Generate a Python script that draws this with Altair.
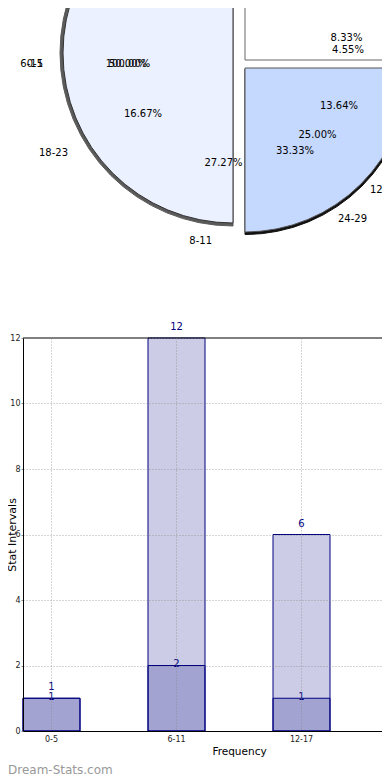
import math
import altair as alt
import pandas as pd

# ---------------- data ----------------
categories = ["0-5", "6-11", "12-17"]
upper_counts = [1, 12, 6]
lower_counts = [1, 2, 1]

slice_ids = ["upper right", "lower right", "left"]
slice_shares = [25, 25, 50]

pie_names = ["6-11", "0-5", "18-23", "8-11", "24-29", "12-17"]
pie_pcts = ["100.00%", "50.00%", "16.67%", "27.27%", "8.33%", "4.55%", "13.64%", "25.00%", "33.33%"]

# ---------------- layout (pixels in plot coords) ----------------
W, H = 367, 393
name_pos = [(20, -274, "right"), (20, -274, "right"), (45, -185, "right"),
            (189, -97, "right"), (315, -119, "left"), (347, -148, "left")]
pct_pos = [(105, -274), (105, -274), (120, -224), (200.5, -175), (323.5, -300),
           (325, -288), (316, -232), (294.5, -203), (272, -187)]

NAVY = "#000080"
FONT = "DejaVu Sans"

bars = pd.DataFrame({"cat": categories, "upper": upper_counts, "lower": lower_counts})

pie = pd.DataFrame({"slice": slice_ids, "share": slice_shares})
pie["end"] = pie["share"].cumsum()
pie["start"] = pie["end"] - pie["share"]
theta_scale = alt.Scale(domain=[0, 100], range=[0, 2 * math.pi])


def wedge(name, cx, cy, r, fill, stroke, sw=1.0):
    return (
        alt.Chart(pie)
        .transform_filter(alt.datum.slice == name)
        .mark_arc(radius=r, fill=fill, stroke=stroke, strokeWidth=sw)
        .encode(
            theta=alt.Theta("start:Q", scale=theta_scale),
            theta2="end:Q",
            x=alt.value(cx),
            y=alt.value(cy),
        )
    )


def label(txt, x, y, align="center", size=10, color="black"):
    return (
        alt.Chart(alt.Data(values=[{"t": txt}]))
        .mark_text(align=align, baseline="middle", fontSize=size, color=color, font=FONT)
        .encode(text="t:N", x=alt.value(x), y=alt.value(y))
    )


layers = [
    # shadows
    wedge("left", 210, -285, 173, "#5a5a5a", "#5a5a5a"),
    wedge("lower right", 222, -269, 165.5, "#111111", "#111111"),
    # wedges
    wedge("upper right", 222, -278, 164, "white", "#666666"),
    wedge("lower right", 222, -270, 164, "#C5D8FE", "#555555"),
    wedge("left", 210, -285, 170, "#EBF1FF", "#333333"),
]
for t, (x, y, a) in zip(pie_names, name_pos):
    layers.append(label(t, x, y, align=a))
for t, (x, y) in zip(pie_pcts, pct_pos):
    layers.append(label(t, x, y))

x_enc = alt.X(
    "cat:N",
    sort=categories,
    scale=alt.Scale(paddingInner=0.544, paddingOuter=0.24, align=0),
    axis=alt.Axis(
        title="Frequency", titleX=216, titleY=20, titleBaseline="middle",
        titleFontSize=10.5, titleFontWeight="normal", titleFont=FONT, titleColor="black",
        labelAngle=0, labelFontSize=8, labelFont=FONT, labelColor="#222222",
        ticks=False, labelPadding=4, grid=True, gridDash=[1, 2], gridColor="#888888",
        gridOpacity=0.7, domainColor="black", zindex=1,
    ),
)
y_scale = alt.Scale(domain=[0, 12], nice=False)
y_axis = alt.Axis(
    values=[0, 2, 4, 6, 8, 10, 12], title="Stat Intervals", titleX=-8, titleY=196.5,
    titleAngle=270, titleBaseline="alphabetic", titleAlign="center", titleFontSize=11,
    titleFontWeight="normal", titleFont=FONT, titleColor="black",
    labelFontSize=8, labelFont=FONT, labelColor="#222222", tickSize=2, tickColor="#888888",
    labelPadding=1, grid=True, gridDash=[1, 2], gridColor="#888888", gridOpacity=0.7,
    domainColor="black", zindex=1,
)

base = alt.Chart(bars)
upper_bar = base.mark_bar(fill=NAVY, fillOpacity=0.2, stroke=NAVY, strokeWidth=1).encode(
    x=x_enc, y=alt.Y("upper:Q", scale=y_scale, axis=y_axis)
)
lower_bar = base.mark_bar(fill=NAVY, fillOpacity=0.2, stroke=NAVY, strokeWidth=1).encode(
    x=x_enc, y=alt.Y("lower:Q", scale=y_scale, axis=y_axis)
)
upper_txt = base.mark_text(dy=-11, color=NAVY, fontSize=10, baseline="middle", font=FONT).encode(
    x=x_enc, y=alt.Y("upper:Q", scale=y_scale, axis=y_axis), text="upper:Q"
)
lower_txt = base.mark_text(dy=-1.5, color=NAVY, fontSize=10, baseline="middle", font=FONT).encode(
    x=x_enc, y=alt.Y("lower:Q", scale=y_scale, axis=y_axis), text="lower:Q"
)
top_border = alt.Chart(alt.Data(values=[{}])).mark_rule(color="black", strokeWidth=1).encode(
    x=alt.value(0), x2=alt.value(W), y=alt.value(0)
)
watermark = label("Dream-Stats.com", -15, 432, align="left", size=12, color="#999999")

layers += [upper_bar, lower_bar, upper_txt, lower_txt, top_border, watermark]

chart = (
    alt.layer(*layers)
    .properties(
        width=W,
        height=H,
        padding={"left": 15, "top": 330, "right": -8, "bottom": 49},
        autosize=alt.AutoSizeParams(type="none"),
        background="white",
    )
    .configure_view(strokeWidth=0, stroke="transparent")
)

chart.save("out.html", embed_options={"renderer": "svg", "actions": False})
